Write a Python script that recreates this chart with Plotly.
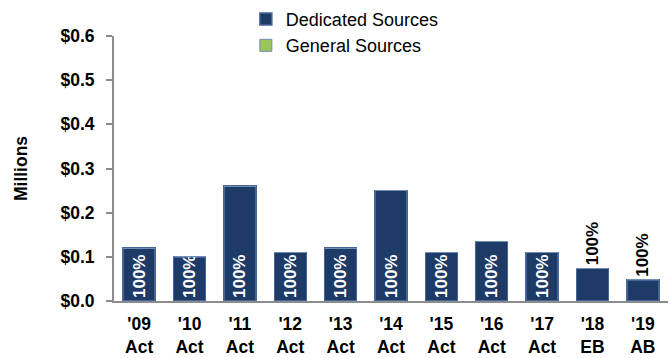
import plotly.graph_objects as go

years = ["'09<br>Act", "'10<br>Act", "'11<br>Act", "'12<br>Act", "'13<br>Act", "'14<br>Act",
         "'15<br>Act", "'16<br>Act", "'17<br>Act", "'18<br>EB", "'19<br>AB"]
dedicated = [0.12, 0.10, 0.26, 0.11, 0.12, 0.25, 0.11, 0.135, 0.11, 0.074, 0.048]
general = [0, 0, 0, 0, 0, 0, 0, 0, 0, 0, 0]
share_labels = ["100%"] * len(years)
y_ticks = [0.0, 0.1, 0.2, 0.3, 0.4, 0.5, 0.6]
y_tick_text = ["$0.0", "$0.1", "$0.2", "$0.3", "$0.4", "$0.5", "$0.6"]

FONT = "Liberation Sans, Arial, sans-serif"
NAVY = "#1e3a66"
AXIS_GREY = "#8c8c8c"

# small bars get their label above the bar in dark text
inside = [v >= 0.09 for v in dedicated]
text_pos = ["inside" if ok else "outside" for ok in inside]
text_col = ["white" if ok else "black" for ok in inside]

fig = go.Figure()
fig.add_trace(go.Bar(
    x=years, y=dedicated, name="Dedicated Sources",
    marker=dict(color=NAVY, line=dict(color="#46669a", width=1.5)),
    text=share_labels, textposition=text_pos, textangle=-90,
    insidetextanchor="start", constraintext="none",
    textfont=dict(family=FONT, size=17, color=text_col, weight="bold"),
    cliponaxis=False,
))
fig.add_trace(go.Bar(
    x=years, y=general, name="General Sources",
    marker=dict(color="#9bc45a", line=dict(color="#6f8fb5", width=1)),
))

fig.update_layout(
    barmode="stack", bargap=0.365,
    width=669, height=358,
    margin=dict(l=114, r=1, t=28, b=57),
    paper_bgcolor="white", plot_bgcolor="white",
    font=dict(family=FONT, size=17, color="black"),
    showlegend=True,
    legend=dict(x=0.238, y=1.133, xanchor="left", yanchor="top",
                font=dict(family=FONT, size=18, color="black"),
                bgcolor="rgba(0,0,0,0)", itemwidth=30, tracegroupgap=0,
                traceorder="normal"),
    xaxis=dict(showline=True, linecolor=AXIS_GREY, linewidth=2, ticks="",
               ticklabelstandoff=6,
               tickfont=dict(family=FONT, size=17.5, color="black", weight="bold")),
    yaxis=dict(range=[0, 0.6], tickvals=y_ticks, ticktext=y_tick_text,
               showgrid=False, zeroline=False, showline=True,
               linecolor=AXIS_GREY, linewidth=2, ticks="outside", ticklen=6,
               tickcolor=AXIS_GREY, tickwidth=2, ticklabelstandoff=8,
               tickfont=dict(family=FONT, size=17.5, color="black", weight="bold"),
               title=dict(text="Millions", standoff=28,
                          font=dict(family=FONT, size=17.5, color="black", weight="bold"))),
)

fig.write_html("out.html")
